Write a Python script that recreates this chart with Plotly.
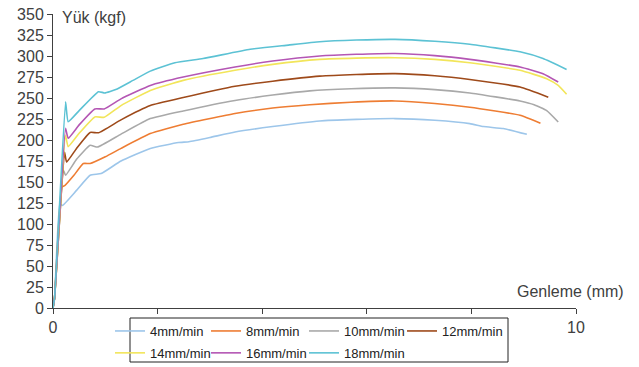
import plotly.graph_objects as go

names = ["4mm/min", "8mm/min", "10mm/min", "12mm/min", "14mm/min", "16mm/min", "18mm/min"]
colors = ["#9DC6EA", "#EE7D33", "#A9A9A9", "#9E4A1A", "#F2E55A", "#B456B4", "#5CC2D4"]

x4 = [0, 0.03, 0.13, 0.18, 0.45, 0.71, 0.92, 1.3, 1.86, 2.4, 2.6, 3.0, 3.48, 4.2, 5.1, 5.8, 6.54, 7.3, 7.97, 8.23, 8.61, 9.06]
y4 = [0, 12, 124, 122, 140, 158, 160, 175, 190, 197, 198, 203, 209.5, 216, 222.7, 224.5, 225.5, 223.5, 219.5, 216, 213.6, 206.8]

x8 = [0, 0.03, 0.17, 0.23, 0.4, 0.58, 0.71, 1.0, 1.3, 1.86, 2.49, 3.48, 4.2, 4.91, 5.7, 6.54, 7.3, 7.97, 8.93, 9.32]
y8 = [0, 12, 144, 146, 158, 172, 172, 180, 190, 207.6, 218.7, 231.5, 238, 242, 245, 246.5, 243.5, 239, 229.5, 220]

x10 = [0, 0.03, 0.2, 0.24, 0.45, 0.71, 0.85, 1.3, 1.86, 2.49, 3.48, 4.2, 4.91, 5.7, 6.54, 7.3, 7.97, 8.93, 9.2, 9.44, 9.66]
y10 = [0, 12, 164, 158, 177, 193.7, 191.6, 207, 225.5, 234.6, 247, 253.5, 258.5, 261, 262, 260, 256, 246.5, 242, 235, 221.5]

x12 = [0, 0.03, 0.22, 0.26, 0.45, 0.71, 0.87, 1.3, 1.86, 2.49, 3.48, 4.2, 5.1, 5.8, 6.54, 7.3, 7.97, 8.93, 9.47]
y12 = [0, 12, 185.7, 173.7, 190, 209, 208.6, 224, 241, 250.5, 264, 270, 276, 278, 279, 276.5, 272, 263, 251]

x14 = [0, 0.03, 0.24, 0.29, 0.5, 0.8, 0.98, 1.3, 1.86, 2.49, 3.48, 4.2, 5.1, 5.8, 6.54, 7.3, 7.97, 8.93, 9.44, 9.66, 9.82]
y14 = [0, 12, 205.6, 192, 208, 227.5, 227, 241, 259, 271, 283, 290, 296, 297.5, 298, 296, 292, 283, 273, 265, 254.5]

x16 = [0, 0.03, 0.24, 0.29, 0.5, 0.8, 0.98, 1.3, 1.86, 2.49, 3.48, 4.2, 5.1, 5.8, 6.54, 7.3, 7.97, 8.93, 9.37, 9.66]
y16 = [0, 12, 214, 202, 218, 237, 237, 249, 265, 275, 287, 294, 300, 302, 303, 300.5, 296, 287, 279, 269]

x18 = [0, 0.03, 0.24, 0.29, 0.5, 0.87, 0.99, 1.2, 1.53, 1.86, 2.33, 2.87, 3.77, 4.5, 5.1, 5.8, 6.54, 7.3, 7.97, 8.93, 9.37, 9.82]
y18 = [0, 12, 245.6, 221.8, 235, 257.5, 256, 260, 271, 282, 292, 297, 308, 313, 317, 319, 319.8, 317.5, 314, 305, 297, 284]

xs = [x4, x8, x10, x12, x14, x16, x18]
ys = [y4, y8, y10, y12, y14, y16, y18]

x_ticks = [0, 2, 4, 6, 8, 10]
x_ticktext = ["0", "", "", "", "", "10"]
y_ticks = list(range(0, 351, 25))

FONT = "Arial, Liberation Sans, sans-serif"

# legend column for each series (4 columns, 2 rows)
legend_ids = ["legend", "legend2", "legend3", "legend4", "legend", "legend2", "legend3"]

fig = go.Figure()
for n, c, x, y, lid in zip(names, colors, xs, ys, legend_ids):
    fig.add_trace(go.Scatter(
        x=x, y=y, mode="lines", name=n, legendgroup=n,
        line=dict(color=c, width=1.6, shape="spline", smoothing=0.4),
        legend=lid,
    ))

W, H = 639, 367
L, R, T, B = 53, 63, 14, 59
PW, PH = W - L - R, H - T - B


def px_x(px):
    return (px - L) / PW


def px_y(py):
    return (H - B - py) / PH


legend_common = dict(
    orientation="v", bgcolor="rgba(0,0,0,0)", borderwidth=0,
    font=dict(family=FONT, size=13, color="#222222"),
    itemwidth=30, xanchor="left", yanchor="top", tracegroupgap=2,
)
legend_top = px_y(316)

fig.update_layout(
    width=W, height=H,
    margin=dict(l=L, r=R, t=T, b=B, autoexpand=False),
    paper_bgcolor="white", plot_bgcolor="white",
    font=dict(family=FONT, size=16, color="#404040"),
    showlegend=True,
    legend=dict(**legend_common, x=px_x(110), y=legend_top),
    legend2=dict(**legend_common, x=px_x(206), y=legend_top),
    legend3=dict(**legend_common, x=px_x(304), y=legend_top),
    legend4=dict(**legend_common, x=px_x(402), y=legend_top),
    xaxis=dict(
        range=[0, 10], tickvals=x_ticks, ticktext=x_ticktext,
        showgrid=False, zeroline=False, showline=True, linecolor="#404040", linewidth=1,
        ticks="outside", ticklen=5, tickcolor="#404040",
        tickfont=dict(size=16, color="#404040"),
    ),
    yaxis=dict(
        range=[0, 350], tickvals=y_ticks,
        showgrid=False, zeroline=False, showline=True, linecolor="#404040", linewidth=1,
        ticks="outside", ticklen=5, tickcolor="#404040",
        tickfont=dict(size=16, color="#404040"),
    ),
    shapes=[dict(
        type="rect", xref="paper", yref="paper",
        x0=px_x(130), x1=px_x(508), y0=px_y(362), y1=px_y(318),
        line=dict(color="#222222", width=1), fillcolor="rgba(0,0,0,0)", layer="above",
    )],
    annotations=[
        dict(text="Yük (kgf)", xref="paper", yref="paper", x=px_x(60), y=px_y(17),
             xanchor="left", yanchor="middle", showarrow=False,
             font=dict(size=16, color="#404040")),
        dict(text="Genleme (mm)", xref="paper", yref="paper", x=px_x(626), y=px_y(291),
             xanchor="right", yanchor="middle", showarrow=False,
             font=dict(size=16, color="#404040")),
    ],
)

fig.write_html("out.html", config={"displayModeBar": False},
               post_script="document.body.style.margin='0';document.body.style.padding='0';")
